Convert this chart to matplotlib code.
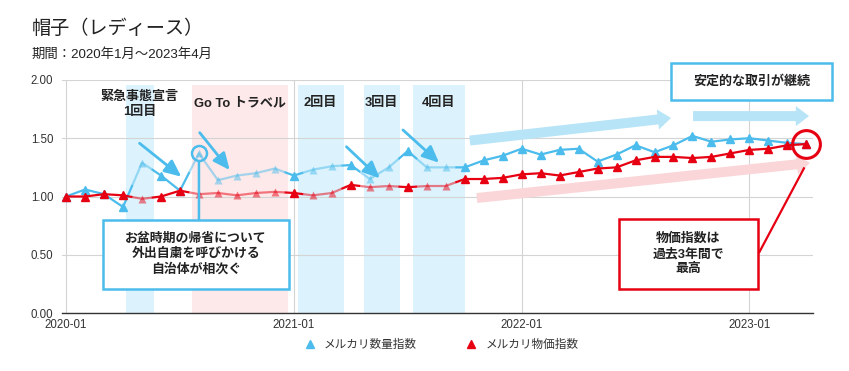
import numpy as np
import matplotlib
matplotlib.use("Agg")
import matplotlib.pyplot as plt
from matplotlib.patches import Rectangle
from matplotlib.lines import Line2D

plt.rcParams['font.family'] = ['Liberation Sans', 'Noto Sans CJK JP', 'DejaVu Sans']

# ---------------- data ----------------
title = "帽子（レディース）"
subtitle = "期間：2020年1月～2023年4月"
series_names = ["メルカリ数量指数", "メルカリ物価指数"]
xtick_pos = [0, 12, 24, 36]
xtick_labels = ["2020-01", "2021-01", "2022-01", "2023-01"]
ytick_vals = [0.0, 0.5, 1.0, 1.5, 2.0]

quantity = [1.00, 1.06, 1.02, 0.91, 1.29, 1.18, 1.05, 1.37, 1.14, 1.18,
            1.20, 1.24, 1.18, 1.23, 1.26, 1.27, 1.15, 1.25, 1.39, 1.25,
            1.25, 1.25, 1.31, 1.35, 1.41, 1.36, 1.40, 1.41, 1.30, 1.36,
            1.44, 1.38, 1.44, 1.52, 1.47, 1.49, 1.50, 1.48, 1.46, 1.45]
price = [1.00, 1.00, 1.02, 1.01, 0.98, 1.00, 1.05, 1.02, 1.03, 1.01,
         1.03, 1.04, 1.03, 1.01, 1.03, 1.10, 1.08, 1.09, 1.08, 1.09,
         1.09, 1.15, 1.15, 1.16, 1.19, 1.20, 1.18, 1.21, 1.24, 1.25,
         1.31, 1.34, 1.34, 1.33, 1.34, 1.37, 1.40, 1.41, 1.44, 1.45]
# months that fall inside event periods (drawn faded)
faded_months = [4, 7, 8, 9, 10, 11, 13, 14, 16, 17, 19, 20]

event_labels = ["緊急事態宣言\n1回目", "Go To トラベル", "2回目", "3回目", "4回目"]
event_start = [3.17, 6.63, 12.22, 15.70, 18.28]
event_end = [4.61, 11.71, 14.63, 17.58, 21.04]
event_kind = ["emergency", "goto", "emergency", "emergency", "emergency"]

# ---------------- style ----------------
BLUE = "#4bbcec"
RED = "#e60012"
LBLUE = "#b8e4f7"
LPINK = "#fad6d8"
SPAN_BLUE = "#dcf3fd"
SPAN_PINK = "#fde9e9"
TXT = "#222222"
FADE = 0.5
MS = 5.2

fig = plt.figure(figsize=(8.49, 3.71), dpi=100)
ax = fig.add_axes([0.0727, 0.1563, 0.8849, 0.6281])

n = len(quantity)
x = np.arange(n)
faded = np.zeros(n, dtype=bool)
faded[faded_months] = True


def draw_series(xv, yv, color, z):
    runs = []
    cur = [(xv[0], yv[0])]
    state = faded[0]
    for i in range(len(xv) - 1):
        if faded[i + 1] == state:
            cur.append((xv[i + 1], yv[i + 1]))
        else:
            m = ((xv[i] + xv[i + 1]) / 2, (yv[i] + yv[i + 1]) / 2)
            cur.append(m)
            runs.append((state, cur))
            cur = [m, (xv[i + 1], yv[i + 1])]
            state = faded[i + 1]
    runs.append((state, cur))
    for st, pts in runs:
        px, py = zip(*pts)
        ax.plot(px, py, color=color, lw=1.6, alpha=FADE if st else 1.0,
                solid_capstyle='butt', solid_joinstyle='round', zorder=z)
    yv = np.asarray(yv)
    ax.plot(xv[~faded], yv[~faded], ls='none', marker='^', ms=MS, color=color,
            mec=color, zorder=z + 0.1)
    ax.plot(xv[faded], yv[faded], ls='none', marker='^', ms=MS, color=color,
            mec='none', alpha=FADE, zorder=z + 0.1)


# event spans
for s, e, k in zip(event_start, event_end, event_kind):
    ax.axvspan(s, e, ymin=0, ymax=0.98, color=SPAN_PINK if k == "goto" else SPAN_BLUE,
               lw=0, zorder=0)

ax.set_xlim(-0.23, 39.35)
ax.set_ylim(0, 2.0)
ax.set_axisbelow(True)
ax.grid(True, color="#d4d4d4", lw=0.8)
ax.set_xticks(xtick_pos)
ax.set_xticklabels(xtick_labels)
ax.set_yticks(ytick_vals)
ax.set_yticklabels([f"{v:.2f}" for v in ytick_vals])
ax.tick_params(axis='both', length=0, labelsize=8.3, labelcolor="#333333")
ax.tick_params(axis='x', pad=4)
ax.tick_params(axis='y', pad=6)
for sp in ["top", "left", "right"]:
    ax.spines[sp].set_visible(False)
ax.spines["bottom"].set_color("#333333")
ax.spines["bottom"].set_linewidth(1.0)

# big trend arrows
fat = 'simple,head_length=0.95,head_width=1.45,tail_width=0.72'
ax.annotate('', xy=(31.87, 1.674), xytext=(21.27, 1.48),
            arrowprops=dict(arrowstyle=fat, mutation_scale=10, fc=LBLUE, ec='none',
                            shrinkA=0, shrinkB=0), zorder=1)
ax.annotate('', xy=(39.14, 1.69), xytext=(33.03, 1.69),
            arrowprops=dict(arrowstyle=fat, mutation_scale=10, fc=LBLUE, ec='none',
                            shrinkA=0, shrinkB=0), zorder=1)

# series
draw_series(x, quantity, BLUE, 3)
draw_series(x, price, RED, 4)

# red connector line (under pink arrow)
ax.plot([36.5, 38.9], [0.515, 1.25], color=RED, lw=1.6, zorder=5,
        solid_capstyle='butt')
ax.annotate('', xy=(39.19, 1.288), xytext=(21.64, 0.987),
            arrowprops=dict(arrowstyle=fat, mutation_scale=10, fc=LPINK, ec='none',
                            shrinkA=0, shrinkB=0), zorder=1)

# event labels
label_x = [3.87, 9.15, 13.38, 16.59, 19.64]
label_y = [1.794, 1.80, 1.805, 1.805, 1.805]
for lx, ly, t in zip(label_x, label_y, event_labels):
    ax.text(lx, ly, t, ha='center', va='center', fontsize=9.4, fontweight='bold',
            color=TXT, linespacing=1.35, zorder=6)

# thin blue arrows
thin = '-|>,head_length=1.0,head_width=0.45'
for (x0, y0), (x1, y1) in [((3.87, 1.457), (6.07, 1.17)),
                           ((7.04, 1.548), (8.62, 1.227)),
                           ((14.77, 1.427), (16.53, 1.156)),
                           ((17.75, 1.571), (19.65, 1.29))]:
    ax.annotate('', xy=(x1, y1), xytext=(x0, y0),
                arrowprops=dict(arrowstyle=thin, mutation_scale=10, color=BLUE,
                                lw=2.0, shrinkA=0, shrinkB=0), zorder=6)

# blue circle + callout
ax.plot([7], [quantity[7]], marker='o', ms=10.8, mfc='none', mec=BLUE, mew=1.8,
        zorder=7)
ax.annotate('', xy=(7, quantity[7]), xytext=(7, 0.80),
            arrowprops=dict(arrowstyle='-', color=BLUE, lw=1.8, shrinkA=0, shrinkB=5.6),
            zorder=7)
ax.add_patch(Rectangle((1.94, 0.206), 11.75 - 1.94, 0.798 - 0.206, fc='white',
                       ec=BLUE, lw=1.8, zorder=8, clip_on=False))
ax.text(6.84, 0.506, "お盆時期の帰省について\n外出自粛を呼びかける\n自治体が相次ぐ",
        ha='center', va='center', fontsize=9.3, fontweight='bold', color=TXT,
        linespacing=1.3, zorder=9)

# red circle + callout
ax.plot([39], [price[39]], marker='o', ms=20, mfc='none', mec=RED, mew=2.2,
        zorder=7, clip_on=False)
ax.add_patch(Rectangle((29.14, 0.206), 36.47 - 29.14, 0.804 - 0.206, fc='white',
                       ec=RED, lw=1.8, zorder=8, clip_on=False))
ax.text(32.79, 0.506, "物価指数は\n過去3年間で\n最高", ha='center', va='center',
        fontsize=9.3, fontweight='bold', color=TXT, linespacing=1.3, zorder=9)

# top right box
ax.add_patch(Rectangle((31.87, 1.828), 40.35 - 31.87, 2.148 - 1.828, fc='white',
                       ec=BLUE, lw=1.8, zorder=8, clip_on=False))
ax.text(36.11, 1.985, "安定的な取引が継続", ha='center', va='center', fontsize=9.4,
        fontweight='bold', color=TXT, zorder=9)

# titles
fig.text(32 / 849, 1 - 29 / 371, title, fontsize=13.8, va='center', ha='left', color=TXT)
fig.text(32 / 849, 1 - 55 / 371, subtitle, fontsize=9.6, va='center', ha='left',
         color=TXT)

# legend
handles = [Line2D([], [], ls='none', marker='^', ms=5.5, color=BLUE),
           Line2D([], [], ls='none', marker='^', ms=5.5, color=RED)]
leg = ax.legend(handles, series_names, loc='center', bbox_to_anchor=(0.505, -0.137),
                ncol=2, frameon=False, fontsize=8.4, handlelength=1.0,
                handletextpad=0.7, columnspacing=4.2)
for t in leg.get_texts():
    t.set_color("#333333")

fig.savefig("out.png", dpi=100)
